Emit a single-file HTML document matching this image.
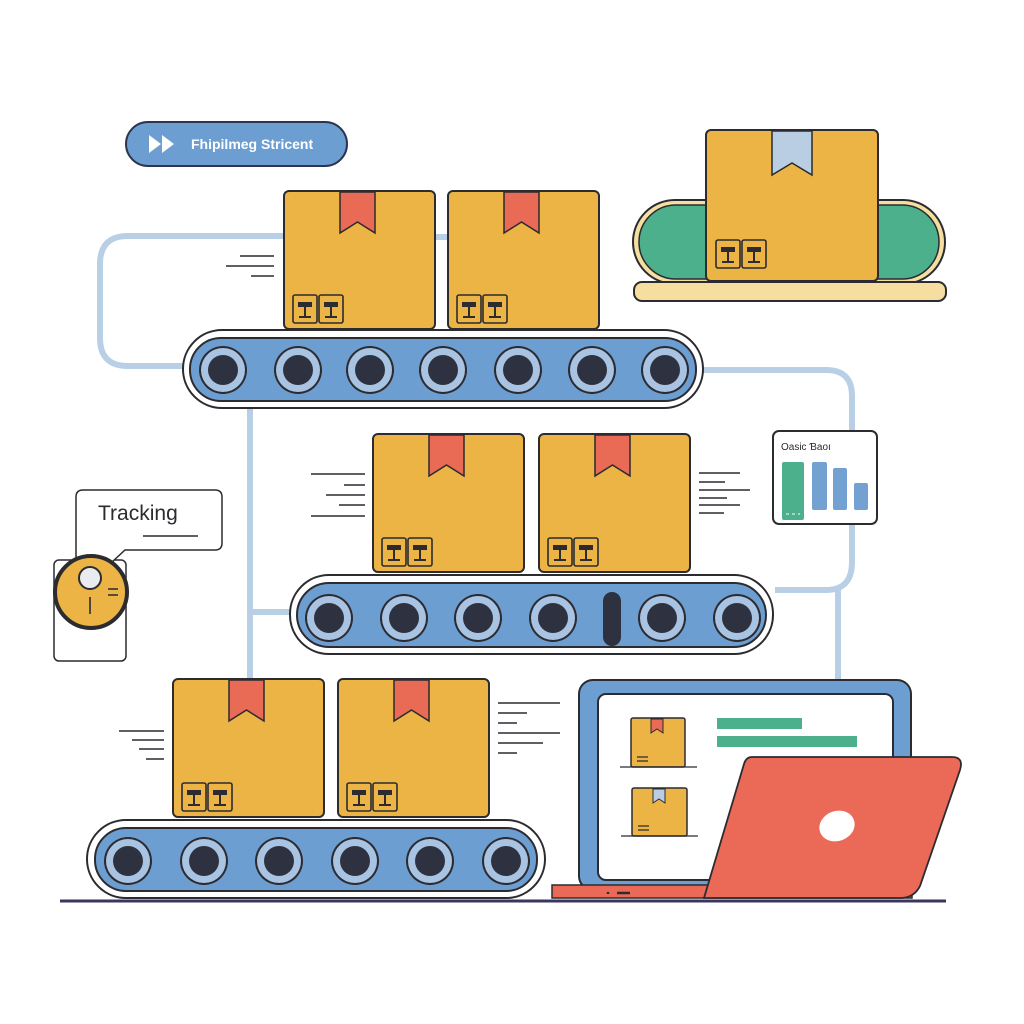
<!DOCTYPE html>
<html><head><meta charset="utf-8"><style>html,body{margin:0;padding:0;background:#fff}svg{display:block}</style></head>
<body>
<svg width="1024" height="1024" viewBox="0 0 1024 1024" xmlns="http://www.w3.org/2000/svg">
<defs>
  <g id="labels">
    <g stroke="#2b2b30" fill="none" stroke-width="1.6">
      <rect x="9" y="104" width="24" height="28" rx="2"/>
      <rect x="35" y="104" width="24" height="28" rx="2"/>
    </g>
    <g fill="#2b2b30">
      <rect x="14" y="111" width="14" height="5"/><rect x="20" y="115" width="2" height="11"/><rect x="15" y="125" width="12" height="2"/>
      <rect x="40" y="111" width="14" height="5"/><rect x="46" y="115" width="2" height="11"/><rect x="41" y="125" width="12" height="2"/>
    </g>
  </g>
  <g id="box">
    <rect x="0" y="0" width="151" height="138" rx="5" fill="#ecb445" stroke="#2b2b30" stroke-width="2"/>
    <path d="M56 1 V42 L73.5 31 L91 42 V1 Z" fill="#e96a55" stroke="#2b2b30" stroke-width="1.5"/>
    <use href="#labels"/>
  </g>
  <g id="roller">
    <circle cx="0" cy="0" r="24" fill="#2b2b30"/>
    <circle cx="0" cy="0" r="22" fill="#a9c3e2"/>
    <circle cx="0" cy="0" r="15" fill="#2e3240"/>
  </g>
</defs>

<!-- connectors -->
<g fill="none" stroke="#b9cfe6" stroke-width="6">
  <path d="M290 236 H128 Q100 236 100 264 V338 Q100 366 128 366 H190"/>
  <path d="M430 237 H455"/>
  <path d="M698 370 H826 Q852 370 852 396 V562 Q852 590 826 590 H775"/>
  <path d="M838 590 V682"/>
  <path d="M250 405 V680"/>
  <path d="M250 612 H296"/>
</g>

<!-- pill -->
<rect x="126" y="122" width="221" height="44" rx="22" fill="#6d9ed1" stroke="#2b3550" stroke-width="2"/>
<path d="M149 135 L161 144 L149 153 Z M162 135 L174 144 L162 153 Z" fill="#fff"/>
<text x="191" y="149" font-family="Liberation Sans, sans-serif" font-weight="bold" font-size="14" fill="#fff">Fhipilmeg Stricent</text>

<!-- top right green conveyor -->
<rect x="633" y="200" width="312" height="84" rx="42" fill="#f4dfa0" stroke="#2b2b30" stroke-width="2"/>
<rect x="639" y="205" width="300" height="74" rx="37" fill="#4db08c" stroke="#2b2b30" stroke-width="1.5"/>
<rect x="634" y="282" width="312" height="19" rx="8" fill="#f6dea0" stroke="#2b2b30" stroke-width="2"/>
<rect x="706" y="130" width="172" height="151" rx="5" fill="#ecb445" stroke="#2b2b30" stroke-width="2"/>
<path d="M772 131 V175 L792 163 L812 175 V131 Z" fill="#b9cee3" stroke="#2b2b30" stroke-width="1.5"/>
<use href="#labels" x="707" y="136"/>

<!-- conveyor 1 -->
<rect x="183" y="330" width="520" height="78" rx="39" fill="#fff" stroke="#2b2b30" stroke-width="2"/>
<rect x="190" y="338" width="506" height="63" rx="31" fill="#6d9ed1" stroke="#2b2b30" stroke-width="2"/>
<use href="#roller" x="223" y="370"/><use href="#roller" x="298" y="370"/><use href="#roller" x="370" y="370"/><use href="#roller" x="443" y="370"/><use href="#roller" x="518" y="370"/><use href="#roller" x="592" y="370"/><use href="#roller" x="665" y="370"/>
<use href="#box" x="284" y="191"/>
<use href="#box" x="448" y="191"/>
<g stroke="#2b2b30" stroke-width="1.5">
  <path d="M240 256 H274 M226 266 H274 M251 276 H274"/>
</g>

<!-- conveyor 2 -->
<rect x="290" y="575" width="483" height="79" rx="39" fill="#fff" stroke="#2b2b30" stroke-width="2"/>
<rect x="297" y="583" width="469" height="64" rx="32" fill="#6d9ed1" stroke="#2b2b30" stroke-width="2"/>
<use href="#roller" x="329" y="618"/><use href="#roller" x="404" y="618"/><use href="#roller" x="478" y="618"/><use href="#roller" x="553" y="618"/><use href="#roller" x="662" y="618"/><use href="#roller" x="737" y="618"/>
<rect x="603" y="592" width="18" height="54" rx="9" fill="#2e3240"/>
<use href="#box" x="373" y="434"/>
<use href="#box" x="539" y="434"/>
<g stroke="#2b2b30" stroke-width="1.5">
  <path d="M311 474 H365 M344 485 H365 M326 495 H365 M339 505 H365 M311 516 H365"/>
  <path d="M699 473 H740 M699 482 H725 M699 490 H750 M699 498 H727 M699 505 H740 M699 513 H724"/>
</g>

<!-- chart card -->
<rect x="773" y="431" width="104" height="93" rx="6" fill="#fff" stroke="#2b2b30" stroke-width="2"/>
<text x="781" y="450" font-family="Liberation Sans, DejaVu Sans, sans-serif" font-size="10" fill="#2b2b30">Oasic Ɓaoı</text>
<rect x="782" y="462" width="22" height="58" rx="2" fill="#4db08c"/>
<rect x="812" y="462" width="15" height="48" rx="2" fill="#72a1d2"/>
<rect x="833" y="468" width="14" height="42" rx="2" fill="#72a1d2"/>
<rect x="854" y="483" width="14" height="27" rx="2" fill="#72a1d2"/>
<path d="M786 514 H800" stroke="#fff" stroke-width="1" stroke-dasharray="3 3"/>

<!-- tracking -->
<rect x="54" y="560" width="72" height="101" rx="5" fill="#fff" stroke="#2b2b30" stroke-width="1.5"/>
<path d="M76 560 V497 Q76 490 83 490 H215 Q222 490 222 497 V543 Q222 550 215 550 H125 L112 562" fill="#fff" stroke="#2b2b30" stroke-width="1.5"/>
<text x="98" y="520" font-family="Liberation Sans, sans-serif" font-size="21" fill="#2b2b30">Tracking</text>
<path d="M143 536 H198" stroke="#2b2b30" stroke-width="1.5"/>
<circle cx="91" cy="592" r="36" fill="#ecb445" stroke="#2b2b30" stroke-width="4"/>
<circle cx="90" cy="578" r="11" fill="#e9ebef" stroke="#2b2b30" stroke-width="2"/>
<path d="M90 597 V614 M108 589 H118 M108 595 H118" stroke="#2b2b30" stroke-width="1.6"/>

<!-- conveyor 3 -->
<rect x="87" y="820" width="458" height="78" rx="39" fill="#fff" stroke="#2b2b30" stroke-width="2"/>
<rect x="95" y="828" width="442" height="63" rx="31" fill="#6d9ed1" stroke="#2b2b30" stroke-width="2"/>
<use href="#roller" x="128" y="861"/><use href="#roller" x="204" y="861"/><use href="#roller" x="279" y="861"/><use href="#roller" x="355" y="861"/><use href="#roller" x="430" y="861"/><use href="#roller" x="506" y="861"/>
<use href="#box" x="173" y="679"/>
<use href="#box" x="338" y="679"/>
<g stroke="#2b2b30" stroke-width="1.5">
  <path d="M119 731 H164 M132 740 H164 M139 749 H164 M146 759 H164"/>
  <path d="M498 703 H560 M498 713 H527 M498 723 H517 M498 733 H560 M498 743 H543 M498 753 H517"/>
</g>

<!-- floor -->
<path d="M60 901 H946" stroke="#3b3560" stroke-width="3"/>

<!-- monitor -->
<rect x="579" y="680" width="332" height="210" rx="14" fill="#6d9ed1" stroke="#2b2b30" stroke-width="2"/>
<rect x="598" y="694" width="295" height="186" rx="8" fill="#fff" stroke="#2b2b30" stroke-width="2"/>
<rect x="631" y="718" width="54" height="49" rx="2" fill="#ecb445" stroke="#2b2b30" stroke-width="1.5"/>
<path d="M651 719 V733 L657 729 L663 733 V719 Z" fill="#e96a55" stroke="#2b2b30" stroke-width="1"/>
<path d="M637 757 H648 M637 761 H648 M620 767 H697" stroke="#2b2b30" stroke-width="1.2"/>
<rect x="632" y="788" width="55" height="48" rx="2" fill="#ecb445" stroke="#2b2b30" stroke-width="1.5"/>
<path d="M653 789 V803 L659 799 L665 803 V789 Z" fill="#b9cee3" stroke="#2b2b30" stroke-width="1"/>
<path d="M638 826 H649 M638 830 H649 M621 836 H698" stroke="#2b2b30" stroke-width="1.2"/>
<rect x="717" y="718" width="85" height="11" fill="#4db08c"/>
<rect x="717" y="736" width="140" height="11" fill="#4db08c"/>

<!-- laptop -->
<rect x="552" y="885" width="360" height="13" fill="#ea6a57" stroke="#2b2b30" stroke-width="1.5"/>
<path d="M608 892 V894 M617 893 H630" stroke="#2b2b30" stroke-width="2.5"/>
<path d="M752 757 H952 Q964 757 960 770 L920 886 Q914 898 900 898 H704 L744 764 Q746 757 752 757 Z" fill="#ea6a57" stroke="#2b2b30" stroke-width="1.8"/>
<ellipse cx="837" cy="826" rx="18" ry="15" transform="rotate(-20 837 826)" fill="#fff"/>
</svg>
</body></html>
